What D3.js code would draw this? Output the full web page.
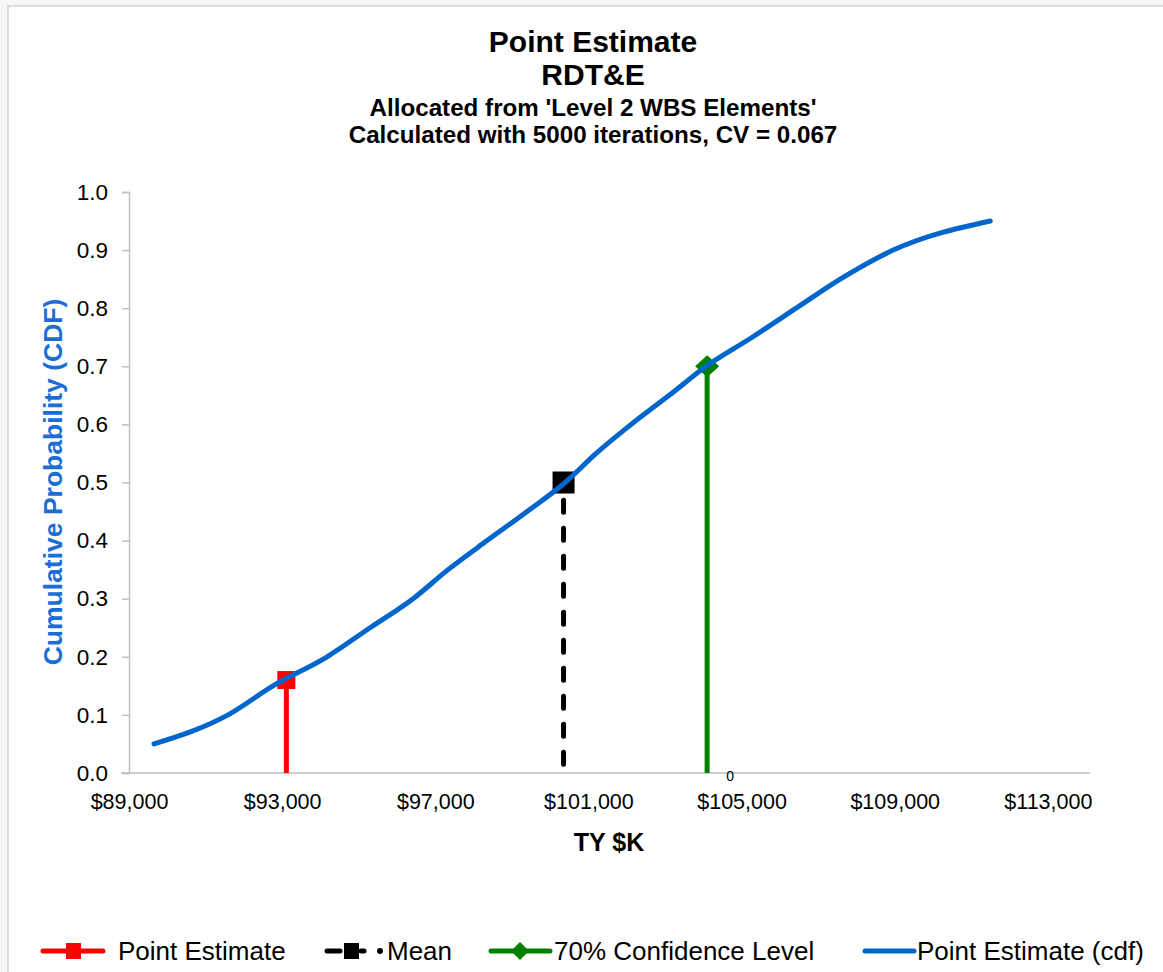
<!DOCTYPE html>
<html><head><meta charset="utf-8">
<script src="https://cdn.jsdelivr.net/npm/d3@7"></script>
<style>
body{margin:0;background:#f7f7f7;font-family:"Liberation Sans",Arial,sans-serif;}
svg{display:block;}
</style></head>
<body><svg id="chart" width="1163" height="972"></svg>
<script>
const titleLines = ["Point Estimate", "RDT&E", "Allocated from 'Level 2 WBS Elements'", "Calculated with 5000 iterations, CV = 0.067"];
const cdfCost = [89653, 91587, 92762, 94173, 95297, 96420, 97334, 98353, 99398, 100391, 101201, 102116, 103109, 104075, 105277, 106426, 107576, 108961, 111495];
const cdfProb = [0.05, 0.10, 0.15, 0.20, 0.25, 0.30, 0.35, 0.40, 0.45, 0.50, 0.55, 0.60, 0.65, 0.70, 0.75, 0.80, 0.85, 0.90, 0.95];
const pointEstimateCost = [93110, 93110];
const pointEstimateProb = [0, 0.16];
const meanCost = [100350, 100350];
const meanProb = [0.015, 0.50];
const conf70Cost = [104100, 104100];
const conf70Prob = [0, 0.70];
const xTicks = [89000, 93000, 97000, 101000, 105000, 109000, 113000];
const yTicks = [0, 0.1, 0.2, 0.3, 0.4, 0.5, 0.6, 0.7, 0.8, 0.9, 1.0];
const legendLabels = ["Point Estimate", "Mean", "70% Confidence Level", "Point Estimate (cdf)"];

const FONT = "Liberation Sans, Arial, sans-serif";
const svg = d3.select("#chart").attr("font-family", FONT);
svg.append("rect").attr("x",8).attr("y",6).attr("width",1170).attr("height",980)
  .attr("fill","#fff").attr("stroke","#d4d4d4").attr("stroke-width",1.5);

const x = d3.scaleLinear().domain([89000, 114100]).range([129, 1090]);
const y = d3.scaleLinear().domain([0, 1]).range([773, 192]);

// titles
const tl = svg.append("g").attr("font-weight","bold").attr("text-anchor","middle").attr("fill","#000");
tl.append("text").attr("x",593).attr("y",52).attr("font-size",30).text(titleLines[0]);
tl.append("text").attr("x",593).attr("y",85).attr("font-size",30).text(titleLines[1]);
tl.append("text").attr("x",593).attr("y",116).attr("font-size",24.2).text(titleLines[2]);
tl.append("text").attr("x",593).attr("y",143).attr("font-size",24.2).text(titleLines[3]);

// y axis
const yAxis = d3.axisLeft(y).tickValues(yTicks).tickFormat(d3.format(".1f")).tickSize(7).tickPadding(14);
const gy = svg.append("g").attr("transform","translate(129,0)").call(yAxis);
gy.selectAll("path,line").attr("stroke","#bfbfbf").attr("stroke-width",1.5);
gy.selectAll("text").attr("font-size",22.5).attr("fill","#000").attr("font-family",FONT);

// x axis
const xAxis = d3.axisBottom(x).tickValues(xTicks).tickFormat(d => "$" + d3.format(",")(d)).tickSize(0).tickPadding(21);
const gx = svg.append("g").attr("transform","translate(0,773)").call(xAxis);
gx.select("path").attr("stroke","#bfbfbf").attr("stroke-width",1.5).attr("d","M121,0H1090");
gx.selectAll("text").attr("font-size",21.5).attr("fill","#000").attr("font-family",FONT);

svg.append("text").attr("x",609).attr("y",851).attr("text-anchor","middle").attr("font-weight","bold").attr("font-size",25).text("TY $K");
svg.append("text").attr("transform","translate(62,482) rotate(-90)").attr("text-anchor","middle")
  .attr("font-weight","bold").attr("font-size",26.5).attr("fill","#1a6ed6").text("Cumulative Probability (CDF)");

const line = d3.line().x(d => x(d[0])).y(d => y(d[1]));
const zip = (a,b) => a.map((v,i) => [v,b[i]]);

// point estimate (red)
svg.append("path").attr("d", line(zip(pointEstimateCost, pointEstimateProb))).attr("stroke","#ff0000").attr("stroke-width",5).attr("fill","none");
svg.append("rect").attr("x", x(pointEstimateCost[1]) - 9).attr("y", y(pointEstimateProb[1]) - 9).attr("width",18).attr("height",18).attr("fill","#ff0000");

// mean (black dashed)
svg.append("path").attr("d", line(zip(meanCost, meanProb))).attr("stroke","#000").attr("stroke-width",5)
  .attr("stroke-dasharray","12,16").attr("stroke-linecap","round").attr("fill","none");
svg.append("rect").attr("x", x(meanCost[1]) - 11).attr("y", y(meanProb[1]) - 11).attr("width",22).attr("height",22).attr("fill","#000");

// 70% confidence (green)
svg.append("path").attr("d", line(zip(conf70Cost, conf70Prob))).attr("stroke","#008000").attr("stroke-width",5).attr("fill","none");
const cx = x(conf70Cost[1]), cy = y(conf70Prob[1]);
svg.append("path").attr("d", `M${cx},${cy-11}L${cx+12},${cy}L${cx},${cy+11}L${cx-12},${cy}Z`).attr("fill","#008000");
svg.append("text").attr("x", x(conf70Cost[0]) + 23).attr("y", 781).attr("font-size",14).attr("text-anchor","middle").attr("fill","#000").text("0");

// cdf (blue)
svg.append("path").attr("d", d3.line().curve(d3.curveMonotoneX).x(d => x(d[0])).y(d => y(d[1]))(zip(cdfCost, cdfProb)))
  .attr("stroke","#0066cc").attr("stroke-width",5).attr("stroke-linecap","round").attr("fill","none");

// legend
const lg = svg.append("g").attr("font-size",26).attr("fill","#000");
const ly = 951;
// red
lg.append("line").attr("x1",43).attr("x2",103).attr("y1",ly).attr("y2",ly).attr("stroke","#ff0000").attr("stroke-width",5).attr("stroke-linecap","round");
lg.append("rect").attr("x",66).attr("y",ly-8).attr("width",15).attr("height",16).attr("fill","#ff0000");
lg.append("text").attr("x",118).attr("y",ly+9).text(legendLabels[0]);
// black
lg.append("line").attr("x1",327).attr("x2",340).attr("y1",ly).attr("y2",ly).attr("stroke","#000").attr("stroke-width",5).attr("stroke-linecap","round");
lg.append("rect").attr("x",344).attr("y",ly-8).attr("width",15).attr("height",16).attr("fill","#000");
lg.append("line").attr("x1",361).attr("x2",364).attr("y1",ly).attr("y2",ly).attr("stroke","#000").attr("stroke-width",5).attr("stroke-linecap","round");
lg.append("circle").attr("cx",380).attr("cy",ly).attr("r",3).attr("fill","#000");
lg.append("text").attr("x",387).attr("y",ly+9).text(legendLabels[1]);
// green
lg.append("line").attr("x1",491).attr("x2",550).attr("y1",ly).attr("y2",ly).attr("stroke","#008000").attr("stroke-width",5).attr("stroke-linecap","round");
lg.append("path").attr("d",`M520,${ly-9}L529,${ly}L520,${ly+9}L511,${ly}Z`).attr("fill","#008000");
lg.append("text").attr("x",554).attr("y",ly+9).text(legendLabels[2]);
// blue
lg.append("line").attr("x1",865).attr("x2",914).attr("y1",ly).attr("y2",ly).attr("stroke","#0066cc").attr("stroke-width",5).attr("stroke-linecap","round");
lg.append("text").attr("x",917).attr("y",ly+9).text(legendLabels[3]);
</script></body></html>
